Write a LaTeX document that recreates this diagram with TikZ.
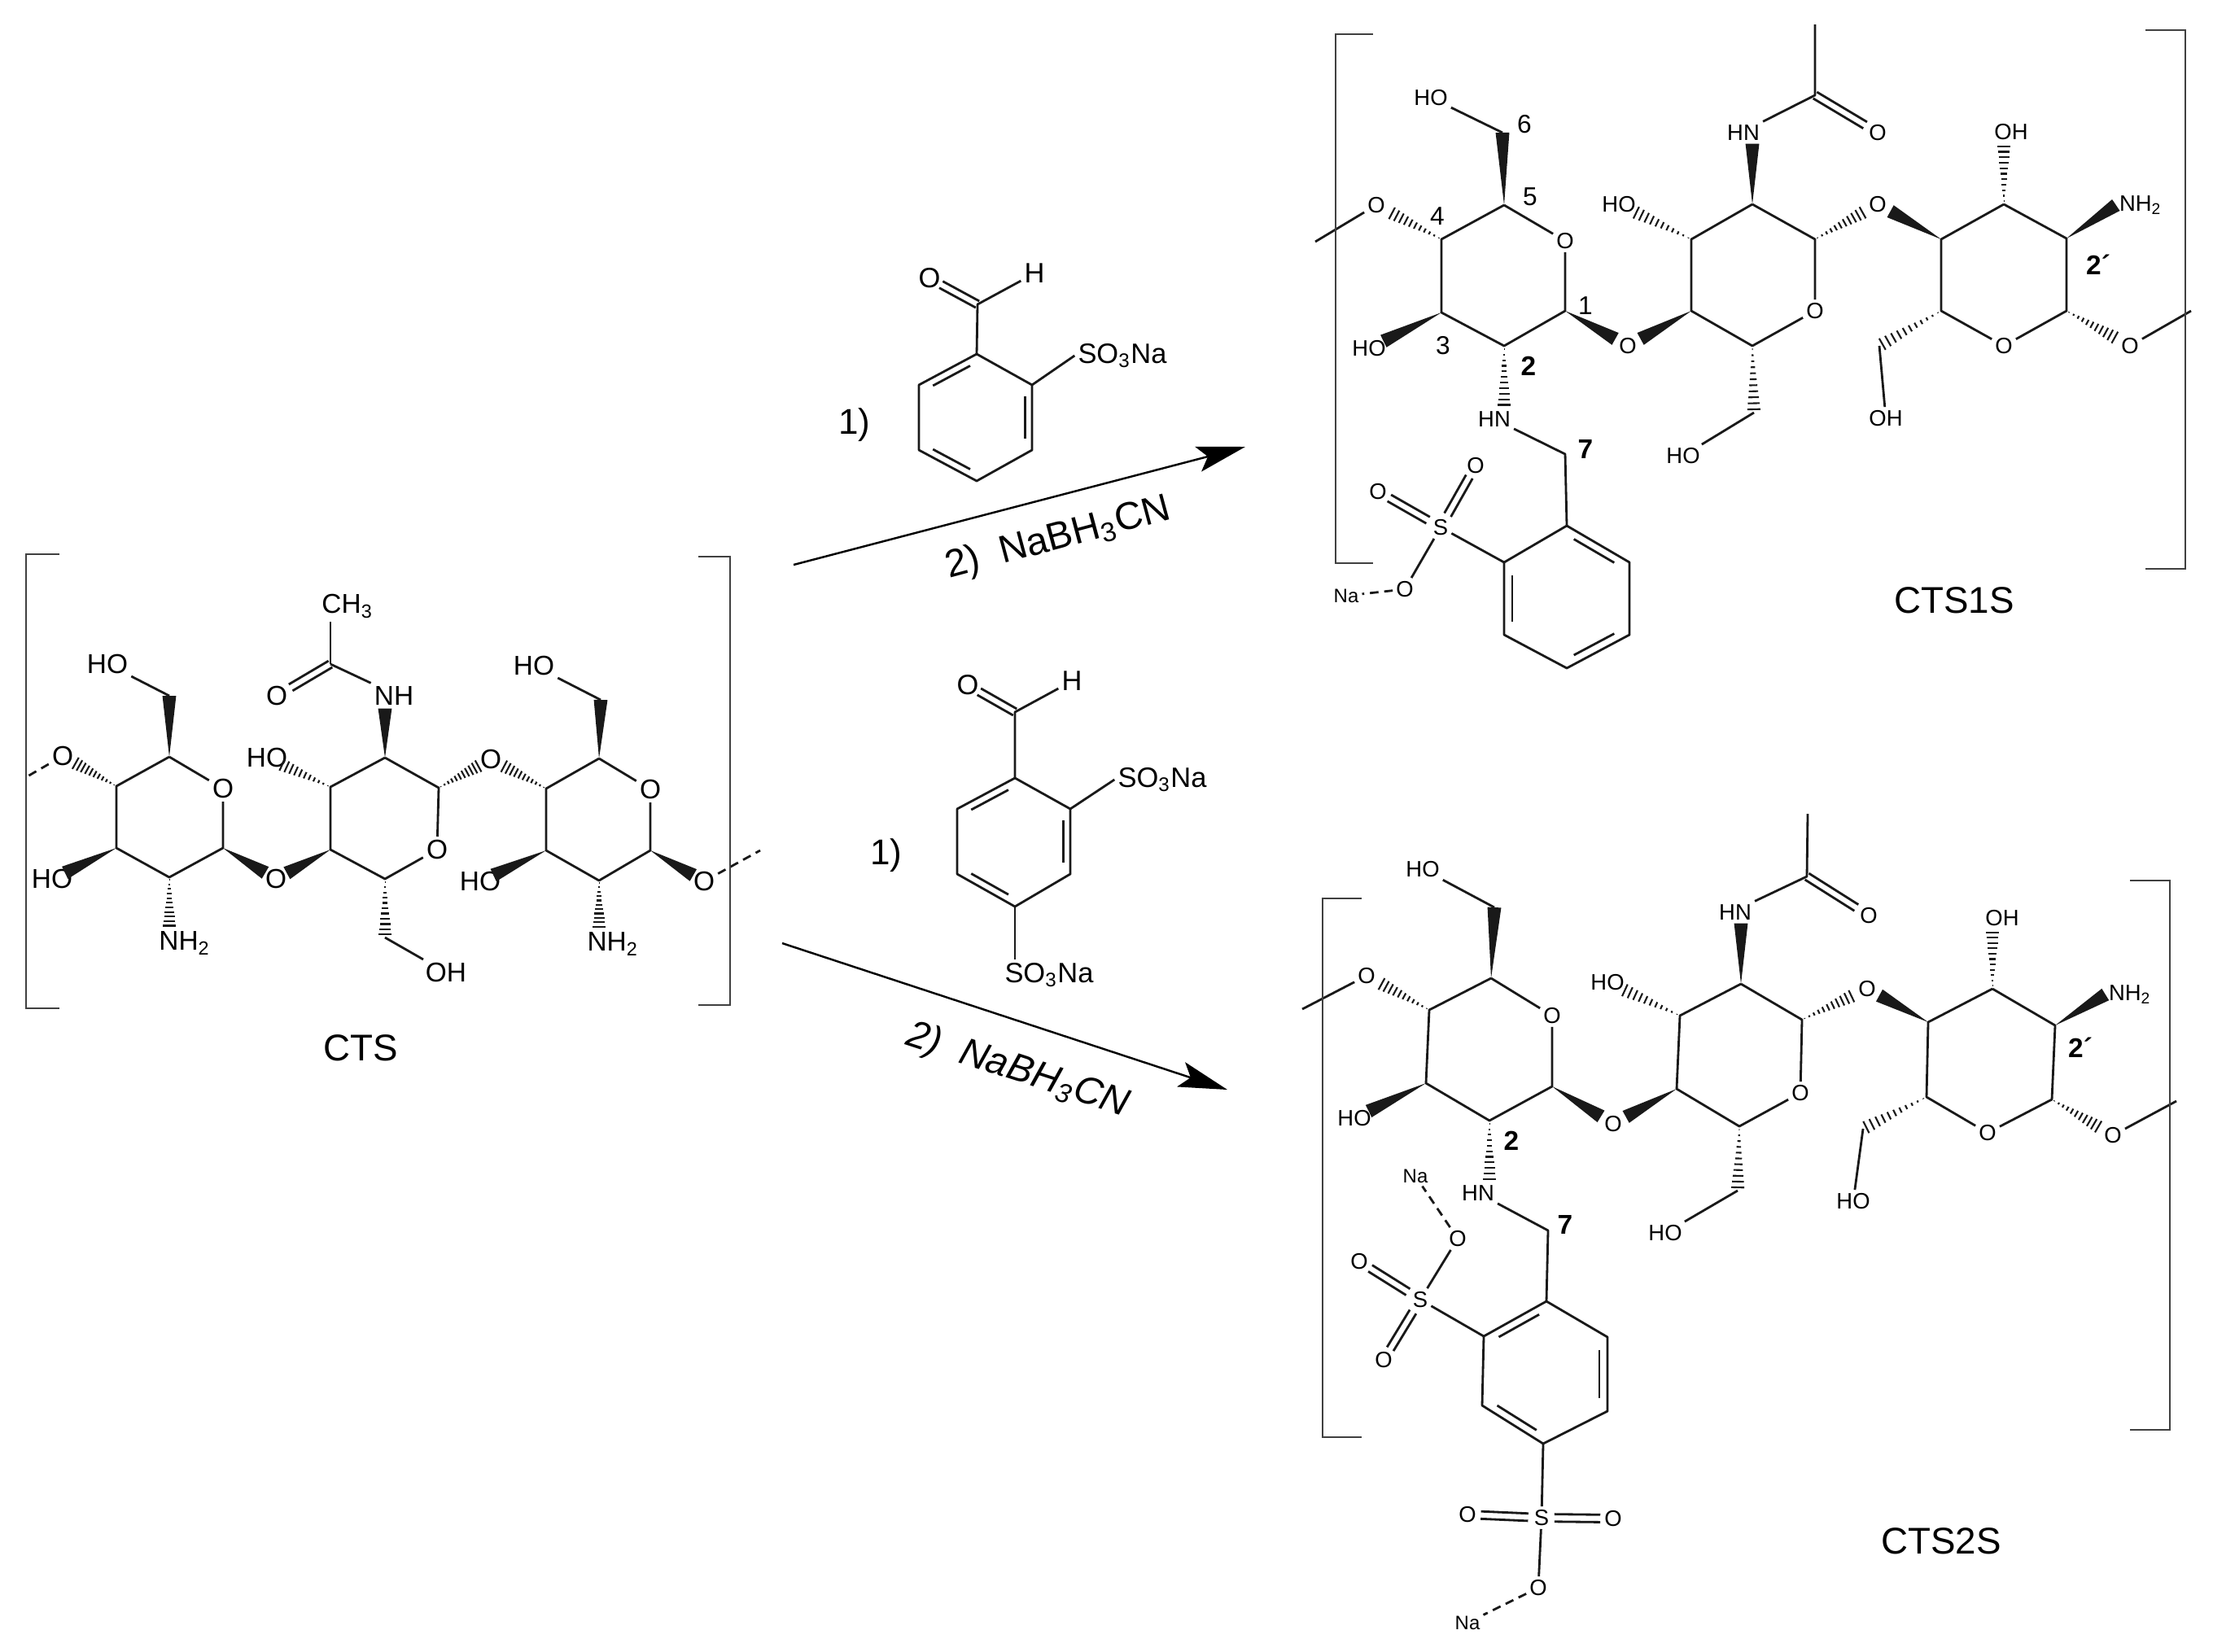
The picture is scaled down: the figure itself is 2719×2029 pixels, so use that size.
\documentclass[tikz,border=0pt]{standalone}
\usepackage{fontspec}
\setmainfont{Liberation Sans}
\usetikzlibrary{arrows.meta,calc}

\tikzset{
    bond/.style={line width=.8pt, line join=round, black!90},
    dashbond/.style={bond, dash pattern=on 3pt off 2pt},
    hashline/.style={line width=.6pt, black!90},
    bracket/.style={line width=.8pt, black!75},
    rxnarrow/.style={line width=.7pt, -{Stealth[length=17pt,width=9pt,inset=3.5pt]}},
    atom/.style={inner sep=1pt, font=\fontsize{7.8}{9}\selectfont},
    bigatom/.style={inner sep=1pt, font=\fontsize{9.5}{11}\selectfont},
    natom/.style={inner sep=1pt, font=\fontsize{6.8}{8}\selectfont},
    reagatom/.style={inner sep=1pt, font=\fontsize{9.8}{11}\selectfont},
    numlabel/.style={inner sep=0pt, font=\fontsize{9}{10}\selectfont},
    boldlabel/.style={inner sep=0pt, font=\fontsize{9.5}{10}\selectfont\bfseries},
    steplabel/.style={inner sep=0pt, font=\fontsize{12.5}{14}\selectfont},
    arrowlabel/.style={inner sep=0pt, font=\fontsize{13.5}{15}\selectfont},
    title/.style={inner sep=0pt, font=\fontsize{13}{15}\selectfont},
}

% wedge and hash widen towards the second end
\newcommand{\wedgebond}[3][.8]{
    \coordinate (wend) at ($(#2)!#1!(#3)$);
    \fill[black!90] (#2) -- ($(wend)!2.4pt!90:(#2)$) -- ($(wend)!2.4pt!-90:(#2)$) -- cycle;
}
\newcommand{\hashbond}[3][.8]{
    \coordinate (wend) at ($(#2)!#1!(#3)$);
    \foreach \t in {.05,.14,.23,.32,.41,.5,.59,.68,.77,.86,.95}
        \draw[hashline] ($(#2)!\t!(wend)!\t*2.4pt!90:(wend)$) -- ($(#2)!\t!(wend)!\t*2.4pt!-90:(wend)$);
}
\newcommand{\twobond}[4]{
    \draw[bond] ($(#1)!#3!(#2)!1.3pt!90:(#2)$) -- ($(#1)!#4!(#2)!1.3pt!90:(#2)$);
    \draw[bond] ($(#1)!#3!(#2)!1.3pt!-90:(#2)$) -- ($(#1)!#4!(#2)!1.3pt!-90:(#2)$);
}
\newcommand{\inbond}[3]{
    \draw[bond] ($(#1)!.13!(#2)!.13!(#3)$) -- ($(#2)!.13!(#1)!.13!(#3)$);
}

\begin{document}
\begin{tikzpicture}[x=.01cm,y=-.01cm]
    \useasboundingbox (0,0) rectangle (2719,2029);

    % CTS --------------------------------------------------------------
    \foreach \n/\px/\py in {a1t/208/930,a1lr/274/1042,a1b/208/1078,a1ll/143/1042,a1ul/143/966,a1c/208/855,
        a2t/473/931,a2ur/539/968,a2b/473/1080,a2ll/406/1044,a2ul/406/967,a2c/473/1152,acc/406/816,
        a3t/736/932,a3lr/799/1045,a3b/736/1082,a3ll/671/1045,a3ul/671/969,a3c/738/860,
        aea/32/955,aeb/934/1045}
        \coordinate (\n) at (\px,\py);
    \foreach \n/\px/\py/\t in {a1ur/274/969/O,a2lr/537/1044/O,a3ur/799/970/O,
        aoa/77/929/O,aob/339/1080/O,aoc/603/933/O,aod/865/1083/O,aoe/340/855/O,
        ahoa/132/816/HO,ahob/64/1080/HO,ahoc/328/931/HO,ahod/548/1195/OH,ahoe/656/818/HO,ahof/590/1083/HO,
        anha/227/1159/{NH\textsubscript{2}},anhb/753/1160/{NH\textsubscript{2}},anh/484/855/NH,ach/427/745/{CH\textsubscript{3}}}
        \node[bigatom] (\n) at (\px,\py) {\t};
    \node[title] (acts) at (443,1288) {CTS};
    \draw[bond] (a1t) -- (a1ur) -- (a1lr) -- (a1b) -- (a1ll) -- (a1ul) -- (a1t);
    \draw[bond] (a2t) -- (a2ur) -- (a2lr) -- (a2b) -- (a2ll) -- (a2ul) -- (a2t);
    \draw[bond] (a3t) -- (a3ur) -- (a3lr) -- (a3b) -- (a3ll) -- (a3ul) -- (a3t);
    \draw[bond] (a1c) -- (ahoa);
    \draw[bond] (a3c) -- (ahoe);
    \draw[bond] (a2c) -- (ahod);
    \draw[bond] (acc) -- (anh.north west);
    \draw[bond] (acc) -- (ach.south -| acc);
    \twobond{acc}{aoe}{0}{.74}
    \draw[dashbond] (aoa) -- (aea);
    \draw[dashbond] (aod) -- (aeb);
    \wedgebond[1]{a1t}{a1c}
    \wedgebond[1]{a3t}{a3c}
    \wedgebond{a1ll}{ahob}
    \wedgebond{a3ll}{ahof}
    \wedgebond{a1lr}{aob}
    \wedgebond{a2ll}{aob}
    \wedgebond{a3lr}{aod}
    \wedgebond[1]{a2t}{anh.south -| a2t}
    \hashbond{a1ul}{aoa}
    \hashbond{a2ul}{ahoc}
    \hashbond{a2ur}{aoc}
    \hashbond{a3ul}{aoc}
    \hashbond[1]{a1b}{anha.north -| a1b}
    \hashbond[1]{a3b}{anhb.north -| a3b}
    \hashbond[1]{a2b}{a2c}
    \draw[bracket] (73,681) -- (32,681) -- (32,1239) -- (73,1239);
    \draw[bracket] (858,684) -- (897,684) -- (897,1235) -- (858,1235);

    % CTS1S ------------------------------------------------------------
    \foreach \n/\px/\py in {b1t/1848/252,b1lr/1923/382,b1b/1848/425,b1ll/1771/384,b1ul/1771/294,b1c/1846/163,b1n/1923/558,
        bbt/1925/646,bbur/2002/691,bblr/2002/780,bbb/1925/821,bbll/1848/780,bbul/1848/691,
        b2t/2153/251,b2ur/2230/294,b2b/2153/425,b2ll/2078/382,b2ul/2078/294,b2c/2155/507,bcc/2230/117,bce/2230/30,
        b3ul/2385/294,b3t/2462/251,b3ur/2539/293,b3lr/2539/382,b3ll/2385/382,b3c/2309/425,
        bea/1616/297,beb/2692/382}
        \coordinate (\n) at (\px,\py);
    \coordinate (bbm) at ($(bbt)!.5!(bbb)$);
    \foreach \n/\px/\py/\t in {b1ur/1923/296/O,b2lr/2230/382/O,b3b/2462/425/O,
        boa/1691/252/O,bob/2000/425/O,boc/2307/251/O,bod/2617/425/O,boe/2307/163/O,
        boso/1813/572/O,bosp/1693/604/O,bosq/1726/724/O,bs/1770/648/S,
        bhoa/1758/120/HO,bhob/1682/428/HO,bhoc/1989/251/HO,bhod/2068/560/HO,bhoe/2471/162/OH,bhof/2317/514/OH,
        bnh/2142/163/HN,bnhb/1836/515/HN,bnha/2630/252/{NH\textsubscript{2}}}
        \node[atom] (\n) at (\px,\py) {\t};
    \node[natom] (bna) at (1654,732) {Na};
    \foreach \n/\px/\py/\t in {bla/1948/376/1,blc/1773/425/3,bld/1766/266/4,ble/1880/242/5,blf/1873/153/6}
        \node[numlabel] (\n) at (\px,\py) {\t};
    \node[boldlabel] (blb) at (1878,450) {2};
    \node[boldlabel] (blg) at (1948,552) {7};
    \node[boldlabel] (blh) at (2578,325) {2´};
    \node[title] (bcts) at (2401,738) {CTS1S};
    \draw[bond] (b1t) -- (b1ur) -- (b1lr) -- (b1b) -- (b1ll) -- (b1ul) -- (b1t);
    \draw[bond] (b2t) -- (b2ur) -- (b2lr) -- (b2b) -- (b2ll) -- (b2ul) -- (b2t);
    \draw[bond] (b3t) -- (b3ur) -- (b3lr) -- (b3b) -- (b3ll) -- (b3ul) -- (b3t);
    \draw[bond] (bbt) -- (bbur) -- (bblr) -- (bbb) -- (bbll) -- (bbul) -- cycle;
    \inbond{bbt}{bbur}{bbm}
    \inbond{bblr}{bbb}{bbm}
    \inbond{bbll}{bbul}{bbm}
    \draw[bond] (b1c) -- (bhoa);
    \draw[bond] (bnhb) -- (b1n) -- (bbt);
    \draw[bond] (bbul) -- (bs) -- (bosq);
    \twobond{bs}{boso}{.2}{.82}
    \twobond{bs}{bosp}{.2}{.82}
    \draw[dashbond] (bosq) -- (bna);
    \draw[bond] (b2c) -- (bhod);
    \draw[bond] (bce) -- (bcc) -- (bnh.north east);
    \twobond{bcc}{boe}{0}{.8}
    \draw[bond] (b3c) -- (bhof);
    \draw[bond] (boa) -- (bea);
    \draw[bond] (bod) -- (beb);
    \wedgebond[1]{b1t}{b1c}
    \wedgebond{b1ll}{bhob}
    \wedgebond{b1lr}{bob}
    \wedgebond{b2ll}{bob}
    \wedgebond{b3ul}{boc}
    \wedgebond[1]{b2t}{bnh.south -| b2t}
    \wedgebond[1]{b3ur}{bnha.west}
    \hashbond{b1ul}{boa}
    \hashbond{b2ul}{bhoc}
    \hashbond{b2ur}{boc}
    \hashbond{b3lr}{bod}
    \hashbond[1]{b1b}{bnhb.north -| b1b}
    \hashbond[1]{b2b}{b2c}
    \hashbond[1]{b3t}{bhoe.south -| b3t}
    \hashbond[1]{b3ll}{b3c}
    \draw[bracket] (1687,42) -- (1641,42) -- (1641,692) -- (1687,692);
    \draw[bracket] (2636,37) -- (2685,37) -- (2685,699) -- (2636,699);

    % CTS2S ------------------------------------------------------------
    \foreach \n/\px/\py in {c1t/1832/1202,c1lr/1907/1335,c1b/1830/1377,c1ll/1752/1331,c1ul/1756/1241,c1c/1836/1115,c1n/1902/1512,
        cbt/1900/1599,cbur/1975/1643,cblr/1975/1734,cbb/1896/1774,cbll/1821/1727,cbul/1823/1642,
        c2t/2139/1209,c2ur/2214/1253,c2b/2137/1384,c2ll/2060/1338,c2ul/2064/1248,c2c/2135/1463,ccc/2220/1077,cce/2221/1000,
        c3ul/2369/1256,c3t/2448/1215,c3ur/2525/1260,c3lr/2521/1351,c3ll/2367/1348,c3c/2289/1387,
        cea/1600/1240,ceb/2674/1353}
        \coordinate (\n) at (\px,\py);
    \coordinate (cbm) at ($(cbt)!.5!(cbb)$);
    \foreach \n/\px/\py/\t in {c1ur/1907/1248/O,c2lr/2212/1343/O,c3b/2442/1392/O,
        coa/1679/1199/O,cob/1982/1381/O,coc/2294/1215/O,cod/2596/1395/O,coe/2296/1125/O,
        cosr/1791/1522/O,coso/1670/1550/O,cosp/1700/1671/O,cs/1745/1597/S,
        csb/1894/1865/S,cota/1803/1861/O,cotb/1982/1866/O,cotc/1890/1951/O,
        choa/1748/1068/HO,chob/1664/1374/HO,choc/1975/1207/HO,chod/2046/1515/HO,choe/2460/1128/OH,chof/2277/1476/HO,
        cnh/2132/1121/HN,cnhb/1816/1466/HN,cnha/2617/1222/{NH\textsubscript{2}}}
        \node[atom] (\n) at (\px,\py) {\t};
    \node[natom] (cna) at (1739,1445) {Na};
    \node[natom] (cnb) at (1803,1994) {Na};
    \node[boldlabel] (clb) at (1857,1402) {2};
    \node[boldlabel] (clg) at (1923,1505) {7};
    \node[boldlabel] (clh) at (2556,1287) {2´};
    \node[title] (ccts) at (2385,1894) {CTS2S};
    \draw[bond] (c1t) -- (c1ur) -- (c1lr) -- (c1b) -- (c1ll) -- (c1ul) -- (c1t);
    \draw[bond] (c2t) -- (c2ur) -- (c2lr) -- (c2b) -- (c2ll) -- (c2ul) -- (c2t);
    \draw[bond] (c3t) -- (c3ur) -- (c3lr) -- (c3b) -- (c3ll) -- (c3ul) -- (c3t);
    \draw[bond] (cbt) -- (cbur) -- (cblr) -- (cbb) -- (cbll) -- (cbul) -- cycle;
    \inbond{cbt}{cbul}{cbm}
    \inbond{cbur}{cblr}{cbm}
    \inbond{cbll}{cbb}{cbm}
    \draw[bond] (c1c) -- (choa);
    \draw[bond] (cnhb) -- (c1n) -- (cbt);
    \draw[bond] (cbul) -- (cs) -- (cosr);
    \draw[dashbond] (cosr) -- (cna);
    \twobond{cs}{coso}{.2}{.82}
    \twobond{cs}{cosp}{.2}{.82}
    \draw[bond] (cbb) -- (csb) -- (cotc);
    \twobond{csb}{cota}{.18}{.82}
    \twobond{csb}{cotb}{.18}{.82}
    \draw[dashbond] (cotc) -- (cnb);
    \draw[bond] (c2c) -- (chod);
    \draw[bond] (cce) -- (ccc) -- (cnh.north east);
    \twobond{ccc}{coe}{0}{.8}
    \draw[bond] (c3c) -- (chof);
    \draw[bond] (coa) -- (cea);
    \draw[bond] (cod) -- (ceb);
    \wedgebond[1]{c1t}{c1c}
    \wedgebond{c1ll}{chob}
    \wedgebond{c1lr}{cob}
    \wedgebond{c2ll}{cob}
    \wedgebond{c3ul}{coc}
    \wedgebond[1]{c2t}{cnh.south -| c2t}
    \wedgebond[1]{c3ur}{cnha.west}
    \hashbond{c1ul}{coa}
    \hashbond{c2ul}{choc}
    \hashbond{c2ur}{coc}
    \hashbond{c3lr}{cod}
    \hashbond[1]{c1b}{cnhb.north -| c1b}
    \hashbond[1]{c2b}{c2c}
    \hashbond[1]{c3t}{choe.south -| c3t}
    \hashbond[1]{c3ll}{c3c}
    \draw[bracket] (1673,1104) -- (1625,1104) -- (1625,1766) -- (1673,1766);
    \draw[bracket] (2617,1082) -- (2666,1082) -- (2666,1757) -- (2617,1757);

    % reagents and arrows ----------------------------------------------
    \foreach \n/\px/\py in {rt/1200/435,rur/1268/473,rlr/1268/553,rb/1200/591,rll/1129/553,rul/1129/473,rc/1201/374,
        st/1247/956,sur/1315/994,slr/1315/1074,sb/1247/1114,sll/1176/1074,sul/1176/994,sc/1247/875,
        arra/975/694,arrb/1530/549,arrc/961/1159,arrd/1508/1339}
        \coordinate (\n) at (\px,\py);
    \coordinate (rm) at ($(rt)!.5!(rb)$);
    \coordinate (sm) at ($(st)!.5!(sb)$);
    \foreach \n/\px/\py/\t in {ro/1142/342/O,rh/1271/336/H,rso/1379/437/{SO\textsubscript{3}Na},
        so/1189/842/O,sh/1317/837/H,ssa/1428/958/{SO\textsubscript{3}Na},ssb/1289/1198/{SO\textsubscript{3}Na}}
        \node[reagatom] (\n) at (\px,\py) {\t};
    \node[steplabel] (rone) at (1050,522) {1)};
    \node[steplabel] (sone) at (1089,1051) {1)};
    \draw[bond] (rt) -- (rur) -- (rlr) -- (rb) -- (rll) -- (rul) -- cycle;
    \inbond{rt}{rul}{rm}
    \inbond{rur}{rlr}{rm}
    \inbond{rll}{rb}{rm}
    \draw[bond] (rt) -- (rc) -- (rh);
    \twobond{rc}{ro}{0}{.76}
    \draw[bond] (rur) -- (rso.west);
    \draw[bond] (st) -- (sur) -- (slr) -- (sb) -- (sll) -- (sul) -- cycle;
    \inbond{st}{sul}{sm}
    \inbond{sur}{slr}{sm}
    \inbond{sll}{sb}{sm}
    \draw[bond] (st) -- (sc) -- (sh);
    \twobond{sc}{so}{0}{.76}
    \draw[bond] (sur) -- (ssa.west);
    \draw[bond] (sb) -- (ssb.north -| sb);
    \draw[rxnarrow] (arra) -- (arrb);
    \draw[rxnarrow] (arrc) -- (arrd);
    \node[arrowlabel,rotate=15] (rtwo) at (1300,662) {2)\ \ NaBH\textsubscript{3}CN};
    \node[arrowlabel,rotate=-18] (stwo) at (1250,1316) {\itshape 2)\ \ NaBH\textsubscript{3}CN};
\end{tikzpicture}
\end{document}
